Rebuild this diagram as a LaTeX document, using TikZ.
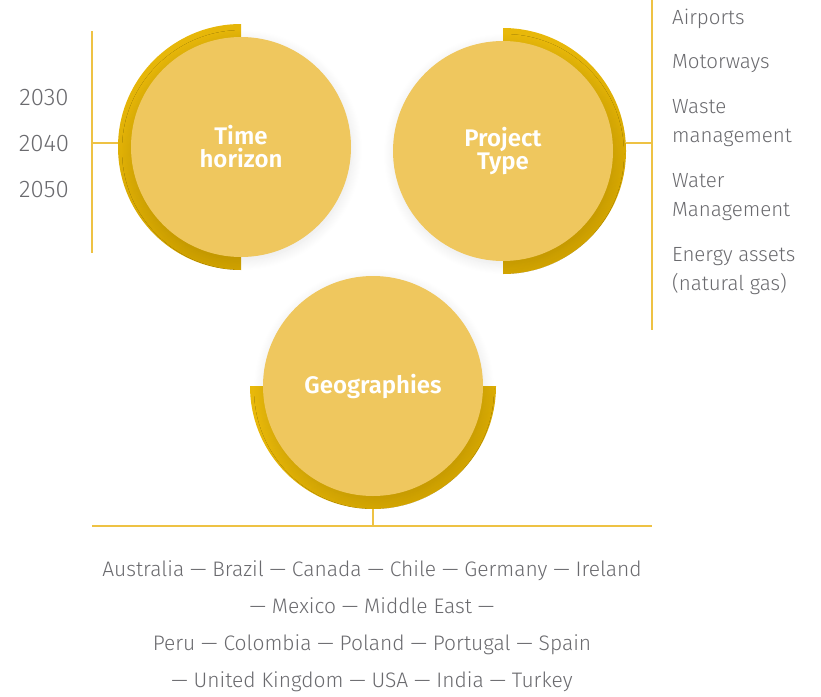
\documentclass[tikz,border=0pt]{standalone}
\usepackage{fontspec}
\setmainfont{Fira Sans}[UprightFont={* Light},BoldFont={* SemiBold}]
\usepackage{tikz}
\usetikzlibrary{shadows.blur}

\definecolor{discfill}{HTML}{EFC75E}
\definecolor{arcA}{HTML}{E8B80A}
\definecolor{arcB}{HTML}{D0A200}
\definecolor{rulecol}{HTML}{EEC244}
\definecolor{textgray}{HTML}{6A6A6E}

\tikzset{
  disc/.style={circle, fill=discfill, minimum size=220pt, inner sep=0pt,
    text=white, align=center, font=\fontsize{24}{25}\selectfont\bfseries,
    blur shadow={shadow xshift=1pt, shadow yshift=-3pt, shadow blur radius=10pt, shadow blur steps=12, shadow opacity=10}},
  backarc/.style={top color=arcA, bottom color=arcB, shading angle=30},
  rule/.style={draw=rulecol, line width=1.5pt},
  label/.style={text=textgray, inner sep=0pt, font=\fontsize{20.5}{29}\selectfont},
}

\begin{document}
\begin{tikzpicture}[x=1pt, y=1pt]
\useasboundingbox (0,0) rectangle (821,-696);

% half discs behind the circles
\shade[backarc] (241,-147) ++(90:123) arc[start angle=90, end angle=270, radius=123] -- cycle;
\shade[backarc] (503,-151) ++(90:123) arc[start angle=90, end angle=-90, radius=123] -- cycle;
\shade[backarc] (373,-386) ++(180:123) arc[start angle=180, end angle=360, radius=123] -- cycle;

% circles
\node[disc] (time) at (241,-147) {Time\\[-2pt]horizon};
\node[disc] (project) at (503,-151) {Project\\[-2pt]Type};
\node[disc] (geo) at (373,-386) {Geographies};

% connector ends
\coordinate (time edge) at (118,-143);
\coordinate (time bar) at (92,-143);
\coordinate (time bar top) at (92,-31);
\coordinate (time bar bot) at (92,-253);
\coordinate (project edge) at (626,-143);
\coordinate (project bar) at (652,-143);
\coordinate (project bar top) at (652,0);
\coordinate (project bar bot) at (652,-330);
\coordinate (geo edge) at (373,-509);
\coordinate (geo bar) at (373,-526);
\coordinate (geo bar left) at (92,-526);
\coordinate (geo bar right) at (652,-526);

\draw[rule] (time bar top) -- (time bar bot);
\draw[rule] (time bar) -- (time edge);
\draw[rule] (project bar top) -- (project bar bot);
\draw[rule] (project bar) -- (project edge);
\draw[rule] (geo bar left) -- (geo bar right);
\draw[rule] (geo bar) -- (geo edge);

% years
\node[label, font=\fontsize{24}{29}\selectfont] (y2030) at (44,-98) {2030};
\node[label, font=\fontsize{24}{29}\selectfont] (y2040) at (44,-144) {2040};
\node[label, font=\fontsize{24}{29}\selectfont] (y2050) at (44,-190) {2050};

% project types
\node[label, anchor=west, align=left] (airports) at (672,-19) {Airports};
\node[label, anchor=west, align=left] (motorways) at (672,-64) {Motorways};
\node[label, anchor=west, align=left] (waste) at (672,-123) {Waste\\management};
\node[label, anchor=west, align=left] (water) at (672,-197) {Water\\Management};
\node[label, anchor=west, align=left] (energy) at (672,-271) {Energy assets\\(natural gas)};

% countries
\node[label, align=center, font=\fontsize{21}{37}\selectfont] (countries) at (372,-626)
  {Australia --- Brazil --- Canada --- Chile --- Germany --- Ireland\\
   --- Mexico --- Middle East ---\\
   Peru --- Colombia --- Poland --- Portugal --- Spain\\
   --- United Kingdom --- USA --- India --- Turkey};
\end{tikzpicture}
\end{document}
